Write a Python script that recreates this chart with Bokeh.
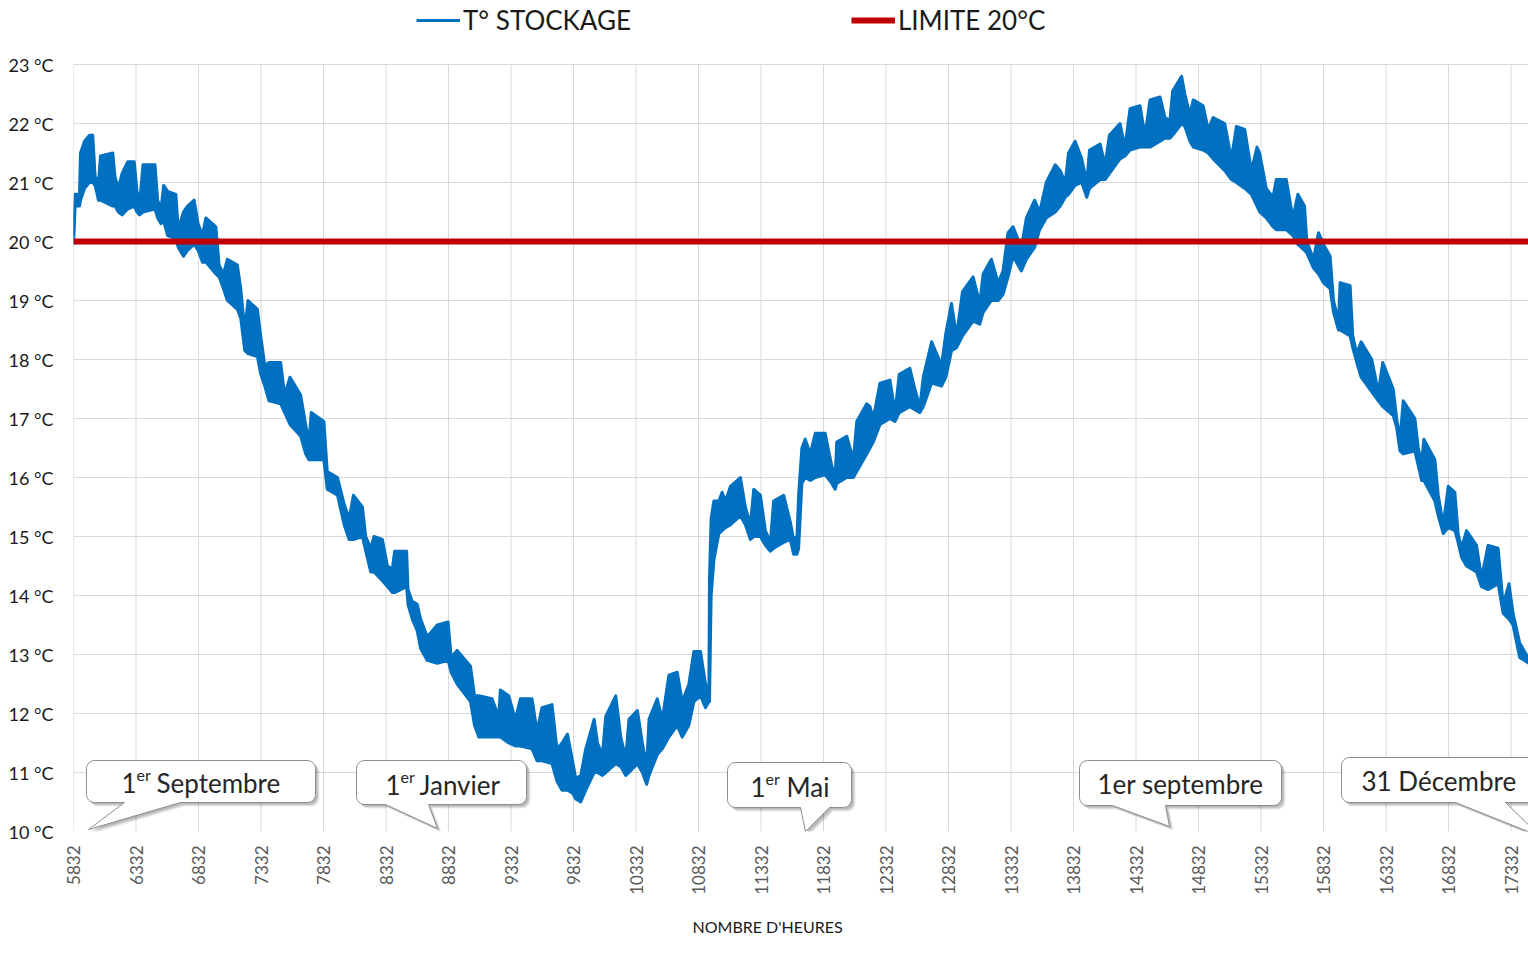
import math
from bokeh.plotting import figure
from bokeh.models import (FixedTicker, PrintfTickFormatter, Legend, LegendItem, Range1d, Title)
from bokeh.core.properties import value
from bokeh.embed import file_html
from bokeh.resources import INLINE

# ---------------- data ----------------
hours = [
    5832, 5845, 5880, 5888, 5920, 5960, 5986, 6005, 6032, 6048,
    6146, 6164, 6191, 6220, 6265, 6318, 6340, 6361, 6388, 6484,
    6505, 6532, 6553, 6585, 6651, 6670, 6712, 6744, 6797, 6829,
    6864, 6891, 6971, 6997, 7032, 7063, 7143, 7170, 7202, 7228,
    7303, 7330, 7362, 7396, 7489, 7521, 7564, 7649, 7689, 7715,
    7734, 7835, 7862, 7944, 7997, 8037, 8071, 8143, 8170, 8210,
    8236, 8303, 8343, 8383, 8401, 8497, 8508, 8542, 8582, 8609,
    8662, 8742, 8829, 8853, 8901, 9008, 9040, 9074, 9180, 9234,
    9247, 9314, 9367, 9407, 9500, 9540, 9580, 9660, 9700, 9740,
    9784, 9824, 9850, 9890, 9930, 9997, 10024, 10063, 10090, 10170,
    10210, 10250, 10276, 10343, 10383, 10417, 10436, 10502, 10542, 10595,
    10662, 10702, 10755, 10795, 10848, 10888, 10915, 10920, 10933, 10955,
    10995, 11021, 11048, 11088, 11167, 11207, 11247, 11274, 11327, 11367,
    11407, 11433, 11513, 11566, 11593, 11620, 11633, 11659, 11686, 11726,
    11766, 11845, 11898, 11925, 11938, 12018, 12071, 12098, 12178, 12204,
    12230, 12284, 12364, 12404, 12438, 12523, 12563, 12603, 12630, 12697,
    12776, 12811, 12856, 12896, 12944, 13029, 13082, 13109, 13175, 13229,
    13268, 13308, 13348, 13415, 13455, 13521, 13561, 13614, 13686, 13726,
    13766, 13792, 13845, 13898, 13938, 13960, 14045, 14085, 14119, 14204,
    14244, 14284, 14364, 14404, 14444, 14524, 14564, 14603, 14625, 14697,
    14723, 14763, 14790, 14869, 14909, 14949, 15042, 15095, 15135, 15202,
    15255, 15300, 15321, 15374, 15428, 15454, 15534, 15587, 15627, 15680,
    15699, 15752, 15792, 15832, 15885, 15912, 15952, 15965, 16045, 16066,
    16098, 16133, 16218, 16271, 16306, 16390, 16417, 16444, 16470, 16563,
    16590, 16617, 16635, 16723, 16750, 16790, 16830, 16883, 16909, 16936,
    16976, 17056, 17096, 17149, 17229, 17269, 17316, 17348, 17401, 17454,
    17472,
]
t_low = [
    19.95, 20.6, 20.6, 20.7, 20.9, 21.0, 21.0, 20.95, 20.7, 20.7,
    20.6, 20.6, 20.5, 20.45, 20.55, 20.6, 20.5, 20.45, 20.5, 20.55,
    20.4, 20.3, 20.35, 20.1, 20.05, 19.9, 19.75, 19.85, 19.95, 19.85,
    19.65, 19.65, 19.45, 19.4, 19.2, 19.0, 18.85, 18.7, 18.15, 18.1,
    18.05, 17.75, 17.55, 17.3, 17.25, 17.1, 16.9, 16.7, 16.4, 16.3,
    16.3, 16.3, 15.8, 15.7, 15.2, 14.95, 14.95, 15.0, 14.75, 14.4,
    14.4, 14.25, 14.15, 14.05, 14.05, 14.15, 13.85, 13.6, 13.4, 13.1,
    12.9, 12.85, 12.9, 12.7, 12.5, 12.2, 11.8, 11.6, 11.6, 11.6,
    11.6, 11.5, 11.45, 11.45, 11.4, 11.2, 11.2, 11.15, 10.85, 10.7,
    10.7, 10.65, 10.55, 10.5, 10.7, 11.0, 11.0, 10.95, 11.0, 11.15,
    11.1, 10.95, 11.0, 11.15, 11.0, 10.8, 10.95, 11.3, 11.4, 11.6,
    11.8, 11.6, 11.8, 12.2, 12.3, 12.1, 12.2, 12.2, 14.0, 14.6,
    15.05, 15.1, 15.15, 15.2, 15.35, 15.2, 14.95, 15.0, 15.0, 14.85,
    14.75, 14.8, 14.9, 14.95, 14.7, 14.7, 14.8, 15.9, 16.0, 15.95,
    16.0, 16.05, 15.9, 15.8, 15.9, 16.0, 16.0, 16.1, 16.4, 16.5,
    16.6, 16.9, 17.0, 16.95, 17.1, 17.2, 17.15, 17.1, 17.2, 17.6,
    17.55, 17.7, 18.15, 18.2, 18.4, 18.65, 18.6, 18.8, 19.0, 19.0,
    19.1, 19.4, 19.75, 19.5, 19.7, 19.9, 20.2, 20.4, 20.5, 20.6,
    20.75, 20.8, 20.95, 21.0, 20.75, 20.9, 21.05, 21.05, 21.15, 21.4,
    21.45, 21.55, 21.6, 21.6, 21.6, 21.7, 21.75, 21.75, 21.8, 22.0,
    21.95, 21.7, 21.6, 21.55, 21.5, 21.4, 21.2, 21.05, 21.0, 20.9,
    20.8, 20.6, 20.5, 20.4, 20.25, 20.2, 20.2, 20.1, 19.95, 19.85,
    19.8, 19.55, 19.45, 19.3, 19.2, 18.8, 18.5, 18.5, 18.4, 18.2,
    17.95, 17.7, 17.45, 17.3, 17.2, 17.05, 16.85, 16.45, 16.4, 16.45,
    16.2, 15.95, 15.95, 15.6, 15.35, 15.05, 15.15, 15.1, 14.9, 14.65,
    14.5, 14.4, 14.15, 14.1, 14.2, 13.7, 13.6, 13.5, 12.95, 12.88,
    12.85,
]
t_high = [
    20.1, 20.8, 20.8, 21.5, 21.7, 21.8, 21.8, 21.1, 21.0, 21.45,
    21.5, 21.1, 20.9, 21.15, 21.35, 21.35, 20.85, 20.65, 21.3, 21.3,
    20.7, 20.55, 20.95, 20.85, 20.8, 20.2, 20.5, 20.6, 20.7, 20.3,
    20.1, 20.4, 20.25, 19.6, 19.45, 19.7, 19.6, 19.2, 18.5, 19.0,
    18.85, 18.4, 17.9, 17.95, 17.95, 17.4, 17.7, 17.4, 16.9, 16.6,
    17.1, 16.95, 16.1, 16.0, 15.55, 15.3, 15.7, 15.5, 15.0, 14.8,
    15.0, 14.95, 14.5, 14.45, 14.75, 14.75, 14.1, 13.9, 13.85, 13.6,
    13.3, 13.5, 13.55, 12.95, 13.07, 12.8, 12.3, 12.3, 12.25, 11.95,
    12.4, 12.3, 11.9, 12.25, 12.25, 11.7, 12.1, 12.15, 11.4, 11.5,
    11.65, 11.2, 10.9, 10.95, 11.4, 11.9, 11.5, 11.3, 11.95, 12.3,
    11.6, 11.25, 11.9, 12.05, 11.5, 11.1, 11.9, 12.25, 11.9, 12.65,
    12.7, 12.2, 12.5, 13.05, 13.05, 12.5, 12.4, 14.3, 15.3, 15.6,
    15.6, 15.75, 15.6, 15.85, 16.0, 15.5, 15.2, 15.8, 15.7, 15.1,
    14.9, 15.6, 15.7, 15.25, 14.95, 15.0, 15.7, 16.5, 16.65, 16.4,
    16.75, 16.75, 16.2, 16.0, 16.6, 16.7, 16.3, 16.95, 17.25, 17.2,
    17.0, 17.6, 17.65, 17.1, 17.75, 17.85, 17.5, 17.2, 17.7, 18.3,
    17.9, 18.45, 18.95, 18.4, 19.15, 19.4, 18.95, 19.45, 19.7, 19.3,
    19.5, 20.15, 20.25, 19.9, 20.4, 20.7, 20.5, 21.0, 21.3, 21.2,
    21.0, 21.5, 21.7, 21.4, 21.0, 21.55, 21.65, 21.3, 21.8, 22.0,
    21.6, 22.25, 22.3, 21.8, 22.4, 22.45, 22.1, 22.05, 22.55, 22.8,
    22.5, 22.15, 22.4, 22.3, 21.9, 22.1, 22.0, 21.4, 21.95, 21.9,
    21.2, 21.6, 21.5, 20.9, 20.75, 21.05, 21.05, 20.4, 20.8, 20.6,
    20.0, 19.7, 20.15, 19.95, 19.75, 19.0, 18.65, 19.3, 19.25, 18.4,
    18.1, 18.3, 18.0, 17.45, 17.95, 17.5, 17.0, 16.65, 17.3, 17.0,
    16.5, 16.25, 16.65, 16.3, 15.7, 15.2, 15.85, 15.75, 15.05, 14.8,
    15.1, 14.85, 14.3, 14.85, 14.8, 13.85, 14.2, 13.7, 13.2, 13.0,
    12.95,
]
limit_value = 20
x_ticks = list(range(5832, 17333, 500))
y_ticks = list(range(10, 24))

# ---------------- layout constants ----------------
X0, X1 = 5832, 17472
Y0, Y1 = 10, 23
PX_PER_DEG = 59.0
Y_TOP = Y1 + 64 / PX_PER_DEG          # room above the grid for the legend
BLUE = "#0070c0"
RED = "#c00000"
GRID = "#d9d9d9"
FONT = "Lato"

p = figure(width=1528, height=953, x_range=Range1d(X0, X1), y_range=Range1d(Y0, Y_TOP),
           output_backend="svg", toolbar_location=None,
           min_border_left=73, min_border_right=0, min_border_top=0, min_border_bottom=122)
p.outline_line_color = None
p.background_fill_color = "white"

# grid: horizontal lines from the y ticker, vertical lines drawn only up to 23 °C
p.xaxis.ticker = FixedTicker(ticks=x_ticks)
p.yaxis.ticker = FixedTicker(ticks=y_ticks)
p.xgrid.visible = False
p.ygrid.ticker = FixedTicker(ticks=y_ticks)
p.ygrid.grid_line_color = GRID
p.ygrid.grid_line_width = 1
p.segment(x0=x_ticks, y0=[Y0] * len(x_ticks), x1=x_ticks, y1=[Y1] * len(x_ticks),
          line_color=GRID, line_width=1)

# axes
p.yaxis.formatter = PrintfTickFormatter(format="%d °C")
for ax in (p.xaxis, p.yaxis):
    ax.axis_line_color = None
    ax.major_tick_line_color = None
    ax.minor_tick_line_color = None
    ax.major_tick_out = 0
    ax.major_tick_in = 0
    ax.major_label_text_font = FONT
p.yaxis.major_label_text_font_size = "18px"
p.yaxis.major_label_text_color = "#1a1a1a"
p.yaxis.major_label_standoff = 20
p.xaxis.major_label_text_font_size = "17px"
p.xaxis.major_label_text_color = "#595959"
p.xaxis.major_label_orientation = math.pi / 2
p.xaxis.major_label_standoff = 14

# x-axis title, centred on the whole picture as in the reference
p.add_layout(Title(text="NOMBRE D'HEURES", align="left", offset=619, standoff=34,
                   text_font=FONT, text_font_style="normal", text_font_size="16px",
                   text_color="#1a1a1a"), "below")

# temperature band (thick, dense line)
p.varea(x=hours, y1=t_low, y2=t_high, fill_color=BLUE)
r_hi = p.line(hours, t_high, line_color=BLUE, line_width=3, line_join="round")
p.line(hours, t_low, line_color=BLUE, line_width=3, line_join="round")

# limit line
r_lim = p.line([X0, X1], [limit_value, limit_value], line_color=RED, line_width=6)

# legend (top strip of the frame, above the 23 °C line)
legend = Legend(items=[LegendItem(label="T° STOCKAGE", renderers=[r_hi]),
                       LegendItem(label="LIMITE 20°C", renderers=[r_lim])],
                location=(343, 795), orientation="horizontal",
                glyph_width=44, glyph_height=20, label_standoff=3, spacing=220,
                padding=0, margin=0, border_line_color=None, background_fill_alpha=0,
                label_text_font=FONT, label_text_font_size="26px",
                label_text_color="#1a1a1a")
p.add_layout(legend)

# ---------------- callouts (positions in reference pixels) ----------------
def hx(px):
    return X0 + (px - 73) * (X1 - X0) / 1455.0

def ty(py):
    return Y1 - (py - 64) / PX_PER_DEG

def bubble(x0, x1, y0, y1, bx0, bx1, tipx, tipy, r=8, dx=0.0, dy=0.0):
    pts = []
    def arc(cx, cy, a0, a1):
        for k in range(7):
            a = a0 + (a1 - a0) * k / 6
            pts.append((cx + r * math.cos(a), cy + r * math.sin(a)))
    arc(x0 + r, y0 + r, math.pi, 1.5 * math.pi)
    arc(x1 - r, y0 + r, 1.5 * math.pi, 2 * math.pi)
    arc(x1 - r, y1 - r, 0, 0.5 * math.pi)
    pts += [(bx1, y1), (tipx, tipy), (bx0, y1)]
    arc(x0 + r, y1 - r, 0.5 * math.pi, math.pi)
    return [hx(a + dx) for a, b in pts], [ty(b + dy) for a, b in pts]

callouts = [
    dict(box=(86, 315, 760, 802), tail=(124, 180, 88, 829), cy=782,
         parts=[("1", 121, 26, 0), ("er", 136, 16, -8), ("Septembre", 156, 26, 0)]),
    dict(box=(356, 526, 760, 804), tail=(385, 428, 437, 828), cy=784,
         parts=[("1", 385, 26, 0), ("er", 400, 16, -8), ("Janvier", 419, 26, 0)]),
    dict(box=(727, 851, 762, 807), tail=(800, 829, 805, 831), cy=786,
         parts=[("1", 750, 26, 0), ("er", 765, 16, -8), ("Mai", 786, 26, 0)]),
    dict(box=(1079, 1281, 760, 805), tail=(1112, 1165, 1169, 826), cy=783,
         parts=[("1er septembre", 1097, 26, 0)]),
    dict(box=(1341, 1575, 757, 802), tail=(1455, 1505, 1540, 836), cy=780,
         parts=[("31 Décembre", 1361, 26, 0)]),
]

for c in callouts:
    x0, x1, y0, y1 = c["box"]
    bx0, bx1, tx, tyy = c["tail"]
    for off, alpha in ((4, 0.08), (3, 0.10), (2, 0.12)):
        sx, sy = bubble(x0, x1, y0, y1, bx0, bx1, tx, tyy, dx=off, dy=off)
        p.patch(sx, sy, fill_color="#000000", fill_alpha=alpha, line_color=None)
    bxs, bys = bubble(x0, x1, y0, y1, bx0, bx1, tx, tyy)
    p.patch(bxs, bys, fill_color="white", line_color="#8c8c8c", line_width=1)
    for txt, px, size, raise_ in c["parts"]:
        p.text(x=[hx(px)], y=[ty(c["cy"] + raise_)], text=[txt],
               text_font=value(FONT), text_font_size=value(f"{size}px"),
               text_baseline="middle", text_align="left", text_color="#262626")

open("out.html", "w").write(file_html(p, INLINE))
